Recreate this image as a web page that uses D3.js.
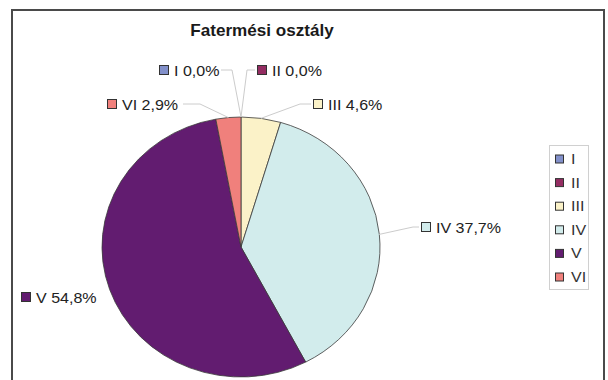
<!DOCTYPE html>
<html>
<head>
<meta charset="utf-8">
<script src="https://cdn.jsdelivr.net/npm/d3@7/dist/d3.min.js"></script>
<style>
html,body{margin:0;padding:0;background:#fff;}
svg{display:block;font-family:"Liberation Sans",Arial,sans-serif;}
</style>
</head>
<body>
<svg id="chart" width="608" height="380"></svg>
<script>
// ---- data ----
const title = "Fatermési osztály";
const categories = ["I", "II", "III", "IV", "V", "VI"];
const values = [0.0, 0.0, 4.6, 37.7, 54.8, 2.9];
const colors = ["#8290CA", "#942D62", "#FBF2C8", "#D2ECEC", "#621C70", "#F0807C"];

// ---- layout ----
const W = 608, H = 380;
const cx = 241, cy = 247, R = 130, sx = 139 / 130; // chart is stretched horizontally
// label anchor: [square left x, centre y, elbow x] per category
const labelLayout = [
  [159, 70, 232],
  [257, 70, 247],
  [313, 104, 300],
  [421, 227, 413],
  [21, 297, null],
  [107, 104, 200]
];

const svg = d3.select("#chart");
svg.append("rect").attr("width", W).attr("height", H).attr("fill", "#fff");

// frame
svg.append("path")
  .attr("d", "M12,382 L12,10 L604,10 L604,382")
  .attr("fill", "none").attr("stroke", "#4a4a4a").attr("stroke-width", 2);

// title
svg.append("text")
  .attr("transform", `translate(262,36) scale(${sx},1)`)
  .attr("text-anchor", "middle")
  .attr("font-size", 16).attr("font-weight", "bold").attr("fill", "#1a1a1a")
  .text(title);

// pie
const pie = d3.pie().sort(null).value(d => d)(values);
const arc = d3.arc().innerRadius(0).outerRadius(R);
const g = svg.append("g").attr("transform", `translate(${cx},${cy}) scale(${sx},1)`);
g.selectAll("path").data(pie).join("path")
  .attr("d", arc)
  .attr("fill", (d, i) => colors[i])
  .attr("stroke", "#3a3a3a").attr("stroke-width", 0.8)
  .attr("vector-effect", "non-scaling-stroke");

// leader lines
const outerPt = d => {
  const a = (d.startAngle + d.endAngle) / 2;
  return [cx + sx * R * Math.sin(a), cy - R * Math.cos(a)];
};
pie.forEach((d, i) => {
  const [lx, ly, ex] = labelLayout[i];
  if (ex === null) return;
  const p = outerPt(d);
  const textEndGuess = i === 0 ? 221 : (i === 5 ? 183 : lx - 2);
  const startX = (lx < cx) ? textEndGuess : lx - 2;
  svg.append("polyline")
    .attr("points", [[startX, ly], [ex, ly], p].map(q => q.join(",")).join(" "))
    .attr("fill", "none").attr("stroke", "#cccccc").attr("stroke-width", 1);
});

// data labels
pie.forEach((d, i) => {
  const [lx, ly] = labelLayout[i];
  svg.append("rect")
    .attr("x", lx + 0.5).attr("y", ly - 4.5).attr("width", 9).attr("height", 9)
    .attr("fill", colors[i]).attr("stroke", "#333").attr("stroke-width", 1);
  svg.append("text")
    .attr("transform", `translate(${lx + 15},${ly + 5.5}) scale(${sx},1)`)
    .attr("font-size", 15).attr("fill", "#222")
    .text(`${categories[i]} ${d3.format(".1f")(values[i]).replace(".", ",")}%`);
});

// legend
const legY = d3.scalePoint().domain(categories).range([159, 277]);
svg.append("rect")
  .attr("x", 549.5).attr("y", 145.5).attr("width", 39).attr("height", 144)
  .attr("fill", "#fff").attr("stroke", "#d0d0d0").attr("stroke-width", 1);
categories.forEach((c, i) => {
  const y = legY(c);
  svg.append("rect")
    .attr("x", 555.5).attr("y", y - 4).attr("width", 8).attr("height", 8)
    .attr("fill", colors[i]).attr("stroke", "#333").attr("stroke-width", 1);
  svg.append("text")
    .attr("transform", `translate(571,${y + 5}) scale(${sx},1)`)
    .attr("font-size", 15).attr("fill", "#333")
    .text(c);
});
</script>
</body>
</html>
